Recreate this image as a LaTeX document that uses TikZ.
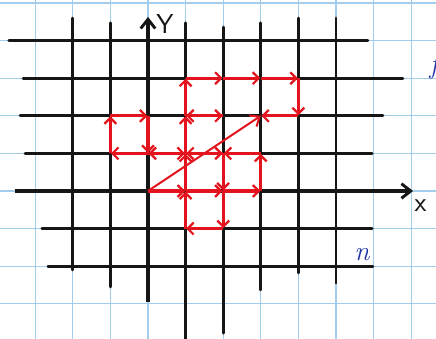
\documentclass[tikz,border=0pt]{standalone}
\usepackage{tikz}
\usetikzlibrary{arrows.meta}
\definecolor{paperblue}{HTML}{A3CDEC}
\definecolor{penred}{HTML}{E3141E}
\definecolor{inkblue}{HTML}{2233A8}
\definecolor{pencil}{HTML}{161616}
\tikzset{
  % graph paper underneath
  paper/.style={draw=paperblue, line width=0.8pt},
  % black lattice lines
  latline/.style={draw=pencil, line width=2.2pt, line cap=round},
  % axes
  axisline/.style={draw=pencil, line width=2.6pt,
    -{Straight Barb[length=7pt, width=11pt, line width=2.2pt]}},
  axislabel/.style={font=\sffamily\huge, text=pencil, inner sep=1pt},
  % steps of the walk
  walkstep/.style={draw=penred, line width=2.5pt, shorten >=0.4pt,
    -{Straight Barb[length=4.5pt, width=9pt, line width=1.7pt]}},
  % displacement
  resultant/.style={draw=penred, line width=1.5pt,
    -{Straight Barb[length=6pt, width=10pt, line width=1.5pt]}},
  % pen marks
  penmark/.style={font=\huge\itshape, text=inkblue, inner sep=0pt},
}
\begin{document}
\begin{tikzpicture}

  \useasboundingbox (-3.936,-3.936) rectangle (7.66,5.08);

  % graph paper
  \begin{scope}
    \clip (-3.936,-3.936) rectangle (7.66,5.08);
    \fill[white] (-3.936,-3.936) rectangle (7.66,5.08);
    \draw[paper] (-4,-4) grid (8,6);
  \end{scope}

  % lattice
  \foreach \y/\xa/\xb in {4/-3.70/5.85, 3/-3.32/6.78, 2/-3.40/6.25,
                          1/-3.27/5.96, -1/-2.82/5.96, -2/-2.66/5.98}
    \draw[latline] (\xa,\y) -- (\xb,\y);
  \foreach \x/\ya/\yb in {-2/-2.10/4.60, -1/-2.55/4.47, 1/-3.94/4.47,
                          2/-3.78/4.36, 3/-2.63/4.47, 4/-2.18/4.60, 5/-2.45/4.60}
    \draw[latline] (\x,\ya) -- (\x,\yb);

  % axes
  \coordinate (xstart) at (-3.54,0);
  \coordinate (xend) at (7.05,0);
  \coordinate (ystart) at (0,-2.95);
  \coordinate (yend) at (0,4.63);
  \draw[axisline] (xstart) -- (xend);
  \draw[axisline] (ystart) -- (yend);
  \node[axislabel] (ylab) at (0.45,4.45) {Y};
  \node[axislabel] (xlab) at (7.25,-0.4) {x};

  % the walk
  \foreach \px/\py [count=\i] in {0/0, 1/0, 2/0, 2/-1, 1/-1, 1/0, 1/1, 0/1,
      -1/1, -1/2, 0/2, 0/1, 1/1, 2/1, 2/0, 3/0, 3/1, 2/1, 1/1, 1/2,
      2/2, 1/2, 1/3, 2/3, 3/3, 4/3, 4/2, 3/2}
    \coordinate (w\i) at (\px,\py);
  \foreach \i [remember=\i as \lasti (initially 1)] in {2,...,28}
    \draw[walkstep] (w\lasti) -- (w\i);
  \draw[resultant] (w1) -- (w28);

  % pen marks in the margin
  \node[penmark] (nmark) at (5.69,-1.68) {n};
  \node[penmark] (fmark) at (7.6,3.3) {f};

\end{tikzpicture}
\end{document}
